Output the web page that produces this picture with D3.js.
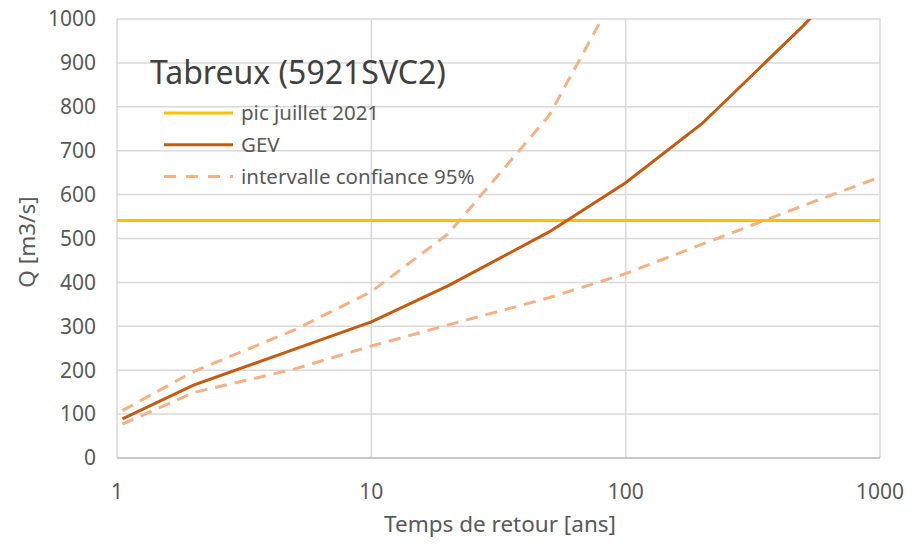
<!DOCTYPE html>
<html>
  <head>
    <meta charset="utf-8" />
    <title>Tabreux (5921SVC2)</title>
    <script src="https://cdn.jsdelivr.net/npm/d3@7"></script>
    <style>
      body { margin: 0; background: #fff; }
      svg text { font-family: "Noto Sans", "Open Sans", sans-serif; }
      .grid line { stroke: #d9d9d9; stroke-width: 1.5; }
      .tick-label { fill: #595959; font-size: 21px; }
    </style>
  </head>
  <body>
    <svg id="chart" width="912" height="549"></svg>

    <script type="text/javascript">
      // return periods (years) and discharges (m3/s)
      var periods = [1.05, 2, 5, 10, 20, 50, 100, 200, 500, 1000];
      var gev     = [89, 166, 248, 310, 392, 515, 627, 762, 985, 1170];
      var upper   = [108, 197, 292, 379, 510, 780, 1100, null, null, null];
      var lower   = [77, 149, 203, 255, 303, 365, 420, 487, 575, 640];
      var peakJuly2021 = 541;

      var xTicks = [1, 10, 100, 1000];
      var yTicks = d3.range(0, 1001, 100);

      var svg = d3.select("#chart"),
          plotLeft = 117, plotRight = 880, plotTop = 19, plotBottom = 458;

      var x = d3.scaleLog().domain([1, 1000]).range([plotLeft, plotRight]),
          y = d3.scaleLinear().domain([0, 1000]).range([plotBottom, plotTop]);

      // grid
      var grid = svg.append("g").attr("class", "grid");
      grid.selectAll(".h").data(yTicks).enter().append("line")
          .attr("x1", plotLeft).attr("x2", plotRight)
          .attr("y1", function(d) { return y(d); })
          .attr("y2", function(d) { return y(d); });
      grid.selectAll(".v").data(xTicks).enter().append("line")
          .attr("y1", plotTop).attr("y2", plotBottom)
          .attr("x1", function(d) { return x(d); })
          .attr("x2", function(d) { return x(d); });
      // bottom axis line slightly darker
      svg.append("line")
          .attr("x1", plotLeft).attr("x2", plotRight)
          .attr("y1", y(0)).attr("y2", y(0))
          .attr("stroke", "#bfbfbf").attr("stroke-width", 1.5);

      // tick labels
      svg.selectAll(".ylab").data(yTicks).enter().append("text")
          .attr("class", "tick-label")
          .attr("x", 96)
          .attr("y", function(d) { return y(d); })
          .attr("dy", "0.35em")
          .attr("text-anchor", "end")
          .text(function(d) { return d; });
      svg.selectAll(".xlab").data(xTicks).enter().append("text")
          .attr("class", "tick-label")
          .attr("x", function(d) { return x(d); })
          .attr("y", 499)
          .attr("text-anchor", "middle")
          .text(function(d) { return d; });

      // axis titles
      svg.append("text")
          .attr("x", 500).attr("y", 532)
          .attr("text-anchor", "middle")
          .attr("fill", "#595959").attr("font-size", 22.5)
          .text("Temps de retour [ans]");
      svg.append("text")
          .attr("transform", "translate(35,242) rotate(-90)")
          .attr("text-anchor", "middle")
          .attr("fill", "#595959").attr("font-size", 22.5)
          .text("Q [m3/s]");

      // series
      svg.append("clipPath").attr("id", "plot")
        .append("rect")
          .attr("x", plotLeft).attr("y", plotTop)
          .attr("width", plotRight - plotLeft).attr("height", plotBottom - plotTop);

      var plot = svg.append("g").attr("clip-path", "url(#plot)");

      function seriesLine(values) {
        return d3.line()
            .defined(function(d, i) { return values[i] != null; })
            .x(function(d) { return x(d); })
            .y(function(d, i) { return y(values[i]); })(periods);
      }

      var dashColor = "#f4b183", gevColor = "#c55a11", peakColor = "#ffc000";

      plot.append("path")
          .attr("d", seriesLine(upper))
          .attr("fill", "none").attr("stroke", dashColor)
          .attr("stroke-width", 3).attr("stroke-dasharray", "12,8");
      plot.append("path")
          .attr("d", seriesLine(lower))
          .attr("fill", "none").attr("stroke", dashColor)
          .attr("stroke-width", 3).attr("stroke-dasharray", "12,8");
      plot.append("line")
          .attr("x1", x(1)).attr("x2", x(1000))
          .attr("y1", y(peakJuly2021)).attr("y2", y(peakJuly2021))
          .attr("stroke", peakColor).attr("stroke-width", 3);
      plot.append("path")
          .attr("d", seriesLine(gev))
          .attr("fill", "none").attr("stroke", gevColor)
          .attr("stroke-width", 3);

      // title + legend (no background, grid shows through)
      svg.append("text")
          .attr("x", 150).attr("y", 84)
          .attr("fill", "#404040").attr("font-size", 32)
          .text("Tabreux (5921SVC2)");

      var legend = [
        { label: "pic juillet 2021", color: peakColor, dash: null },
        { label: "GEV", color: gevColor, dash: null },
        { label: "intervalle confiance 95%", color: dashColor, dash: "12,10" }
      ];
      var lg = svg.selectAll(".legend").data(legend).enter().append("g")
          .attr("transform", function(d, i) { return "translate(0," + (113 + i * 31.7) + ")"; });
      lg.append("line")
          .attr("x1", 164).attr("x2", 233)
          .attr("stroke", function(d) { return d.color; })
          .attr("stroke-width", 3)
          .attr("stroke-dasharray", function(d) { return d.dash; });
      lg.append("text")
          .attr("x", 241).attr("dy", "0.35em")
          .attr("fill", "#595959").attr("font-size", 20.5)
          .text(function(d) { return d.label; });
    </script>
  </body>
</html>
